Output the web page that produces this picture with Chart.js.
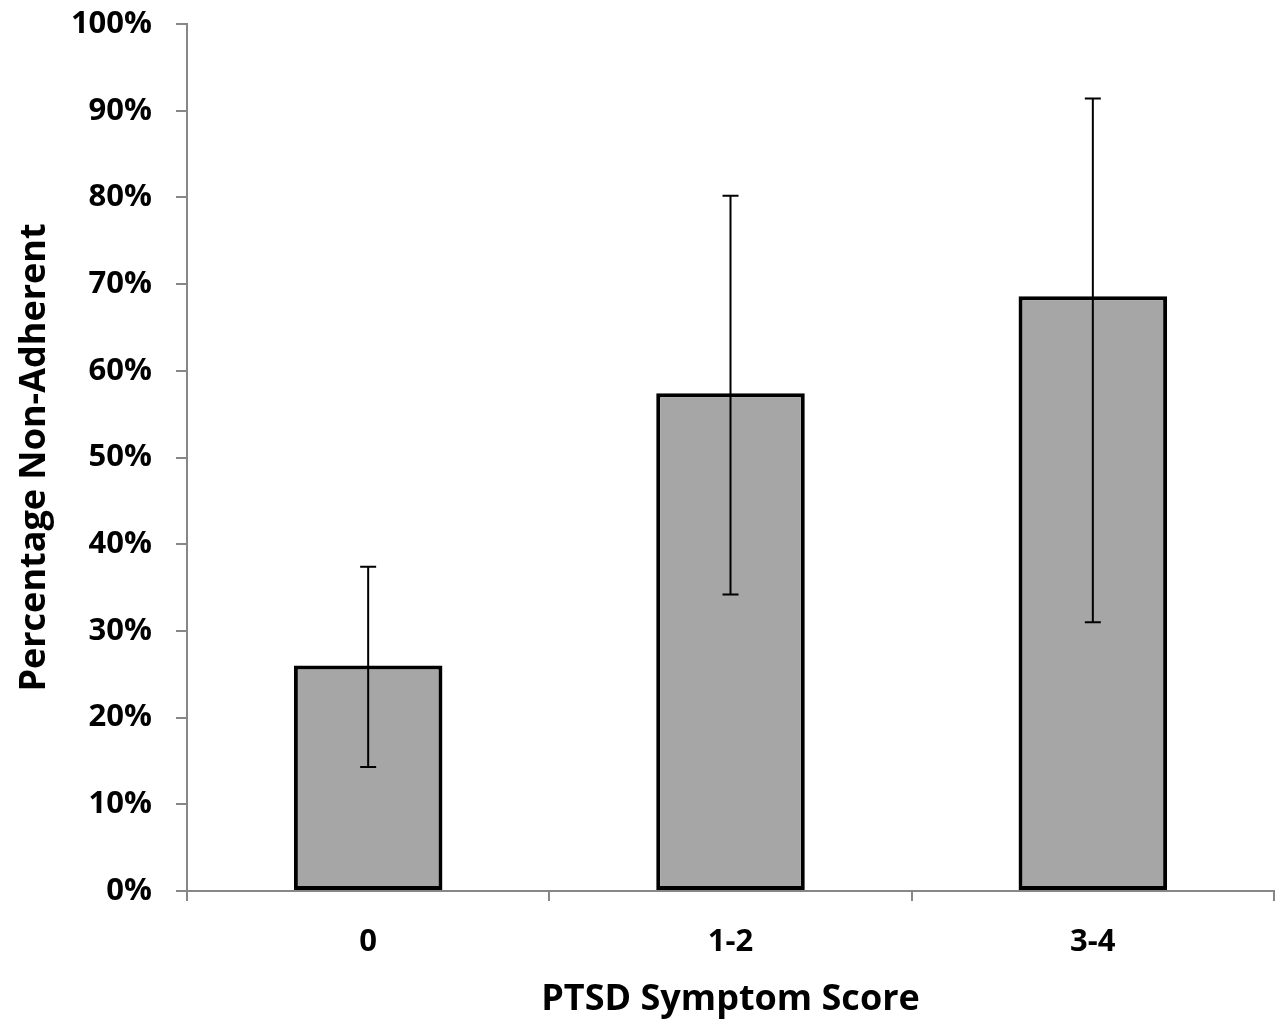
<!DOCTYPE html>
<html>
<head>
<meta charset="utf-8">
<script src="https://cdn.jsdelivr.net/npm/chart.js@4"></script>
<style>
  body { margin: 0; background: #fff; }
  canvas { display: block; }
</style>
</head>
<body>
<canvas id="grafico" width="1285" height="1027"></canvas>
<script>
const categories = ['0', '1-2', '3-4'];
const percentNonAdherent = [26.0, 57.4, 68.6];
const errorHigh = [37.4, 80.2, 91.4];
const errorLow = [14.3, 34.2, 31.0];

const axisGray = '#878787';
const fontFamily = '"Open Sans", Lato, sans-serif';

// barras de erro desenhadas por cima das barras
const errorBars = {
  id: 'errorBars',
  afterDatasetsDraw(chart) {
    const ctx = chart.ctx;
    const x = chart.scales.x;
    const y = chart.scales.y;
    ctx.save();
    ctx.strokeStyle = '#000';
    ctx.lineWidth = 2;
    categories.forEach((c, i) => {
      const px = x.getPixelForValue(i);
      const top = y.getPixelForValue(errorHigh[i]);
      const bot = y.getPixelForValue(errorLow[i]);
      ctx.beginPath();
      ctx.moveTo(px, top);
      ctx.lineTo(px, bot);
      ctx.moveTo(px - 8, top);
      ctx.lineTo(px + 8, top);
      ctx.moveTo(px - 8, bot);
      ctx.lineTo(px + 8, bot);
      ctx.stroke();
    });
    ctx.restore();
  }
};

new Chart(document.getElementById('grafico').getContext('2d'), {
  type: 'bar',
  data: {
    labels: categories,
    datasets: [{
      data: percentNonAdherent,
      backgroundColor: '#a6a6a6',
      borderColor: '#000',
      borderWidth: 4,
      borderSkipped: false,
      barPercentage: 0.41,
      categoryPercentage: 1.0
    }]
  },
  options: {
    responsive: false,
    animation: false,
    layout: { padding: { top: 24, right: 11, left: 0, bottom: 0 } },
    plugins: {
      legend: { display: false },
      tooltip: { enabled: false }
    },
    scales: {
      x: {
        afterFit(scale) { scale.height = 136; },
        grid: {
          offset: true,
          drawOnChartArea: false,
          color: axisGray,
          lineWidth: 2,
          tickLength: 10
        },
        border: { color: axisGray, width: 2 },
        ticks: {
          color: '#000',
          padding: 23,
          font: { family: fontFamily, size: 31, weight: 'bold' }
        },
        title: {
          display: true,
          text: 'PTSD Symptom Score',
          color: '#000',
          padding: { top: 0, bottom: 6 },
          font: { family: fontFamily, size: 36, weight: 'bold' }
        }
      },
      y: {
        min: 0,
        max: 100,
        afterFit(scale) {
          scale.width = 187;
          scale.paddingTop = 0;
          scale.paddingBottom = 0;
        },
        grid: {
          drawOnChartArea: false,
          color: axisGray,
          lineWidth: 2,
          tickLength: 11
        },
        border: { color: axisGray, width: 2 },
        ticks: {
          stepSize: 10,
          color: '#000',
          padding: 24,
          callback: v => v + '%',
          font: { family: fontFamily, size: 31, weight: 'bold' }
        },
        title: {
          display: true,
          text: 'Percentage Non-Adherent',
          color: '#000',
          padding: { top: 13, bottom: 0 },
          font: { family: fontFamily, size: 36, weight: 'bold' }
        }
      }
    }
  },
  plugins: [errorBars]
});
</script>
</body>
</html>
